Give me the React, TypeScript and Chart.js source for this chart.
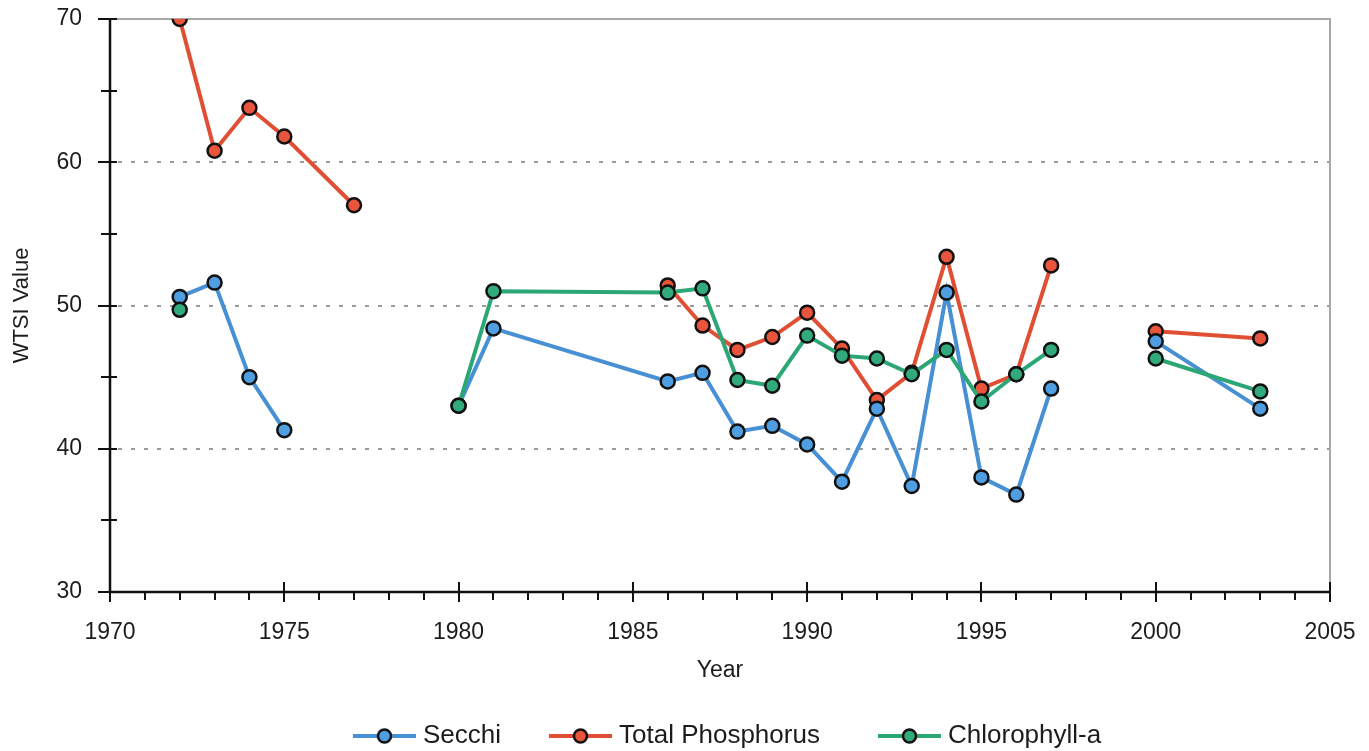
import React, { useEffect, useRef } from 'react';
import { Chart, registerables } from 'chart.js';

Chart.register(...registerables);

// ---- Data (null = gap in the series) ----
const secchiYears = [1972, 1973, 1974, 1975, 1977, 1980, 1981, 1986, 1987, 1988, 1989, 1990, 1991, 1992, 1993, 1994, 1995, 1996, 1997, 1998, 2000, 2003];
const secchiValues = [50.6, 51.6, 45.0, 41.3, null, 43.0, 48.4, 44.7, 45.3, 41.2, 41.6, 40.3, 37.7, 42.8, 37.4, 50.9, 38.0, 36.8, 44.2, null, 47.5, 42.8];

const tpYears = [1972, 1973, 1974, 1975, 1977, 1980, 1986, 1987, 1988, 1989, 1990, 1991, 1992, 1993, 1994, 1995, 1996, 1997, 1998, 2000, 2003];
const tpValues = [70.0, 60.8, 63.8, 61.8, 57.0, null, 51.4, 48.6, 46.9, 47.8, 49.5, 47.0, 43.4, 45.3, 53.4, 44.2, 45.2, 52.8, null, 48.2, 47.7];

const chlYears = [1972, 1976, 1980, 1981, 1986, 1987, 1988, 1989, 1990, 1991, 1992, 1993, 1994, 1995, 1996, 1997, 1998, 2000, 2003];
const chlValues = [49.7, null, 43.0, 51.0, 50.9, 51.2, 44.8, 44.4, 47.9, 46.5, 46.3, 45.2, 46.9, 43.3, 45.2, 46.9, null, 46.3, 44.0];

const seriesLabels = ['Secchi', 'Total Phosphorus', 'Chlorophyll-a'];
const lineColors = ['#4690d3', '#e04e34', '#2ba776'];
const pointColors = ['#4f9ee2', '#e8553c', '#31ab7b'];

const xMin = 1970, xMax = 2005, xMajor = 5;
const yMin = 30, yMax = 70, yMajor = 10, yMinor = 5;
const yGridLines = [40, 50, 60];

const xTitle = 'Year';
const yTitle = 'WTSI Value';

const FONT = '"Liberation Sans", Arial, Helvetica, sans-serif';
const TEXT = '#1c1c1c';

function toPoints(xs: number[], ys: (number | null)[]) {
  return xs.map((x, i) => ({ x, y: ys[i] }));
}

const legendLeft = [353, 549, 878];

const axesPlugin = {
  id: 'customAxes',
  beforeDatasetsDraw(chart: any) {
    const { ctx, chartArea, scales } = chart;
    const xs = scales.x, ys = scales.y;
    const { left, right, top, bottom } = chartArea;
    ctx.save();
    // dotted gridlines
    ctx.strokeStyle = '#9a9a9a';
    ctx.lineWidth = 2;
    ctx.setLineDash([4, 9]);
    yGridLines.forEach((v) => {
      const y = Math.round(ys.getPixelForValue(v));
      ctx.beginPath();
      ctx.moveTo(left + 8, y);
      ctx.lineTo(right, y);
      ctx.stroke();
    });
    ctx.setLineDash([]);
    // top and right border
    ctx.strokeStyle = '#a8a8a8';
    ctx.lineWidth = 2;
    ctx.beginPath();
    ctx.moveTo(left, top);
    ctx.lineTo(right, top);
    ctx.lineTo(right, bottom);
    ctx.stroke();
    // axes
    ctx.strokeStyle = '#111';
    ctx.lineWidth = 2.5;
    ctx.beginPath();
    ctx.moveTo(left, top);
    ctx.lineTo(left, bottom);
    ctx.lineTo(right, bottom);
    ctx.stroke();
    // x ticks
    ctx.lineWidth = 2;
    for (let yr = xMin; yr <= xMax; yr++) {
      const x = Math.round(xs.getPixelForValue(yr));
      ctx.beginPath();
      if (yr % xMajor === 0) {
        ctx.moveTo(x, bottom - 10);
        ctx.lineTo(x, bottom + 10);
      } else {
        ctx.moveTo(x, bottom);
        ctx.lineTo(x, bottom + 8);
      }
      ctx.stroke();
    }
    // y ticks
    for (let v = yMin; v <= yMax; v += yMinor) {
      const y = Math.round(ys.getPixelForValue(v));
      ctx.beginPath();
      if (v % yMajor === 0) {
        ctx.moveTo(left - 12, y);
        ctx.lineTo(left + 7, y);
      } else {
        ctx.moveTo(left - 9, y);
        ctx.lineTo(left + 7, y);
      }
      ctx.stroke();
    }
    ctx.restore();
  },
  afterDraw(chart: any) {
    // legend
    const { ctx } = chart;
    const datasets = chart.data.datasets;
    ctx.save();
    ctx.font = `26px ${FONT}`;
    const lineW = 63, gapText = 7;
    const cy = 736;
    datasets.forEach((d: any, i: number) => {
      const x = legendLeft[i];
      ctx.strokeStyle = d.borderColor;
      ctx.lineWidth = 4;
      ctx.beginPath();
      ctx.moveTo(x, cy);
      ctx.lineTo(x + lineW, cy);
      ctx.stroke();
      ctx.beginPath();
      ctx.arc(x + lineW / 2, cy, 6.5, 0, Math.PI * 2);
      ctx.fillStyle = d.pointBackgroundColor;
      ctx.fill();
      ctx.strokeStyle = '#111';
      ctx.lineWidth = 2.5;
      ctx.stroke();
      ctx.fillStyle = TEXT;
      ctx.textBaseline = 'middle';
      ctx.textAlign = 'left';
      ctx.fillText(d.label, x + lineW + gapText, cy);
    });
    ctx.restore();
  },
};

export default function App() {
  const ref = useRef<HTMLCanvasElement | null>(null);
  useEffect(() => {
    document.body.style.margin = '0';
    const canvas = ref.current;
    if (!canvas) return;
    const data = [toPoints(secchiYears, secchiValues), toPoints(tpYears, tpValues), toPoints(chlYears, chlValues)];
    const drawOrder = [1, 2, 0];
    const zeroPad = (s: any) => {
      s.paddingTop = 0;
      s.paddingBottom = 0;
      s.paddingLeft = 0;
      s.paddingRight = 0;
    };
    const chart = new Chart(canvas, {
      type: 'line',
      data: {
        datasets: data.map((pts, i) => ({
          label: seriesLabels[i],
          data: pts as any,
          borderColor: lineColors[i],
          backgroundColor: pointColors[i],
          pointBackgroundColor: pointColors[i],
          pointBorderColor: '#111',
          pointBorderWidth: 2.5,
          pointRadius: 7,
          borderWidth: 4,
          spanGaps: false,
          tension: 0,
          order: drawOrder[i],
        })),
      },
      options: {
        responsive: false,
        animation: false,
        layout: { padding: { left: 0, top: 19, right: 39, bottom: 59 } },
        plugins: {
          legend: { display: false },
          tooltip: { enabled: false },
          title: { display: false },
        },
        scales: {
          x: {
            type: 'linear',
            min: xMin,
            max: xMax,
            grid: { display: false, drawTicks: false },
            border: { display: false },
            ticks: {
              stepSize: xMajor,
              color: TEXT,
              font: { family: FONT, size: 23 },
              padding: 27,
              maxRotation: 0,
              callback: (v: any) => String(v),
            },
            title: {
              display: true,
              text: xTitle,
              color: TEXT,
              font: { family: FONT, size: 23 },
              padding: { top: 0, bottom: 8 },
            },
            afterFit: (s: any) => { s.height = 100; zeroPad(s); },
          },
          y: {
            type: 'linear',
            min: yMin,
            max: yMax,
            grid: { display: false, drawTicks: false },
            border: { display: false },
            ticks: {
              stepSize: yMajor,
              color: TEXT,
              font: { family: FONT, size: 23 },
              padding: 28,
            },
            title: {
              display: true,
              text: yTitle,
              color: TEXT,
              font: { family: FONT, size: 22 },
              padding: { top: 9, bottom: 0 },
            },
            afterFit: (s: any) => { s.width = 110; zeroPad(s); },
          },
        },
      },
      plugins: [axesPlugin],
    });
    return () => chart.destroy();
  }, []);
  return (
    <div style={{ width: 1369, height: 751 }}>
      <canvas ref={ref} width={1369} height={751} style={{ display: 'block' }} />
    </div>
  );
}
